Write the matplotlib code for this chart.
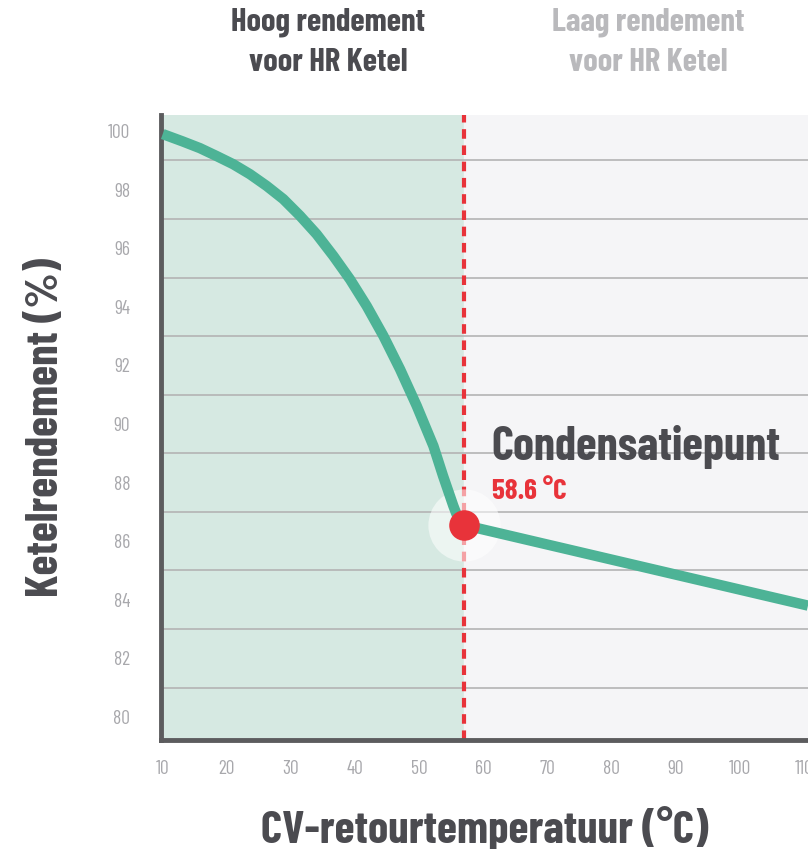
import matplotlib.pyplot as plt
from matplotlib import font_manager

# curve (temperature in C, efficiency in %)
temp = [10.0, 13.1, 15.8, 18.4, 21.0, 23.6, 26.2, 28.8, 31.4, 34.0, 36.6, 39.2, 41.8,
        44.4, 47.0, 49.6, 52.2, 53.7, 55.3, 56.3, 57.0, 110.6]
eff = [99.9, 99.65, 99.42, 99.15, 98.87, 98.53, 98.13, 97.68, 97.11, 96.48, 95.74, 94.94, 94.03,
       93.01, 91.87, 90.62, 89.25, 88.23, 87.21, 86.64, 86.55, 83.8]
cond_temp = 57.0
cond_eff = 86.55
cond_label = '58.6 °C'
x_ticks = [10, 20, 30, 40, 50, 60, 70, 80, 90, 100, 110]
y_ticks = [80, 82, 84, 86, 88, 90, 92, 94, 96, 98, 100]
grid_levels = [81, 83, 85, 87, 89, 91, 93, 95, 97, 99]

names = {f.name for f in font_manager.fontManager.ttflist}
font = 'Barlow Condensed' if 'Barlow Condensed' in names else 'DejaVu Sans'
plt.rcParams['font.family'] = [font, 'DejaVu Sans']

DARK = '#4b4b50'
GREY = '#a8a8ac'
TEAL = '#4db396'
RED = '#e8333a'

fig = plt.figure(figsize=(8.08, 8.49), dpi=100)
ax = fig.add_axes([0.199, 0.128, 0.801, 0.7365])
ax.set_xlim(9.7, 110.6)
ax.set_ylim(79.2, 100.55)

ax.axvspan(9.7, cond_temp, color='#d6e9e2', zorder=0)
ax.axvspan(cond_temp, 110.6, color='#f5f5f7', zorder=0)

ax.set_yticks(grid_levels, minor=True)
ax.grid(which='minor', axis='y', color='#b4b4b4', linewidth=1.2, zorder=1)
ax.set_xticks(x_ticks)
ax.set_yticks(y_ticks)
ax.tick_params(which='both', length=0, colors=GREY, labelsize=14)
ax.tick_params(axis='x', pad=14)
ax.tick_params(axis='y', pad=22)

ax.axvline(cond_temp, color=RED, linewidth=3, linestyle=(0, (2.3, 1.6)), zorder=2)
ax.plot(temp, eff, color=TEAL, linewidth=7.5, solid_capstyle='butt', solid_joinstyle='round', zorder=3)
ax.plot([cond_temp], [cond_eff], 'o', color='white', alpha=0.55, markersize=52, markeredgewidth=0, zorder=2.5)
ax.plot([cond_temp], [cond_eff], 'o', color=RED, markersize=22, markeredgewidth=0, zorder=4)

ax.text(61.3, 89.2, 'Condensatiepunt', color=DARK, fontsize=34, fontweight='bold', va='center', ha='left')
ax.text(61.3, 87.7, cond_label, color=RED, fontsize=21, fontweight='bold', va='center', ha='left')

for side in ['top', 'right']:
    ax.spines[side].set_visible(False)
for side in ['left', 'bottom']:
    ax.spines[side].set_color('#5c5c5e')
    ax.spines[side].set_linewidth(3.5)

ax.set_xlabel('CV-retourtemperatuur (°C)', color=DARK, fontsize=33, fontweight='bold', labelpad=20)
ax.set_ylabel('Ketelrendement (%)', color=DARK, fontsize=33, fontweight='bold', labelpad=30)

fig.text(0.406, 0.950, 'Hoog rendement\nvoor HR Ketel', color=DARK, fontsize=23.5, fontweight='bold',
         ha='center', va='center', linespacing=1.5)
fig.text(0.802, 0.950, 'Laag rendement\nvoor HR Ketel', color='#b9b9bc', fontsize=23.5, fontweight='bold',
         ha='center', va='center', linespacing=1.5)

fig.savefig('out.png', dpi=100)
